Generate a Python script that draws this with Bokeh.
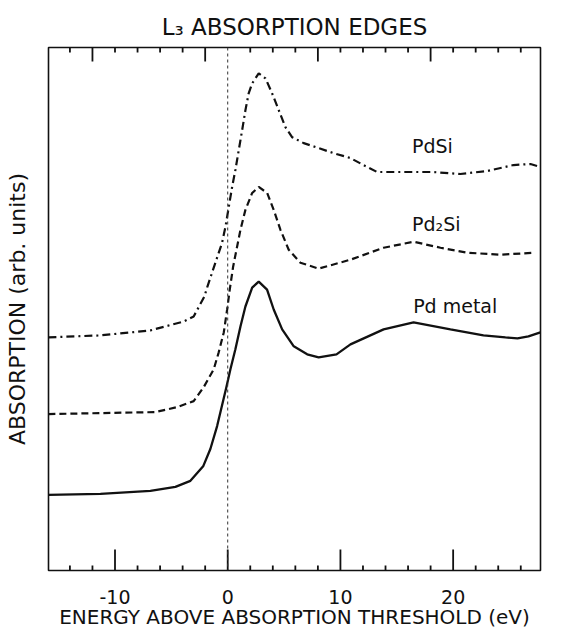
from bokeh.plotting import figure
from bokeh.models import LinearAxis, FixedTicker, Span, Range1d
from bokeh.core.properties import value
from bokeh.embed import file_html
from bokeh.resources import INLINE

# ---------------- data ----------------
# energy above threshold (eV) and absorption (arb. units)
pd_metal_e = [-15.91, -11.29, -6.86, -4.64, -3.31, -2.16, -1.54, -0.94, -0.12, 0.24,
              0.68, 1.13, 1.57, 2.17, 2.75, 3.49, 4.08, 4.83, 5.86, 7.05,
              8.07, 9.65, 10.89, 13.83, 16.49, 19.76, 22.69, 24.64, 25.71, 26.68, 27.74]
pd_metal_a = [0.76, 0.77, 0.80, 0.84, 0.90, 1.05, 1.22, 1.45, 1.84, 2.02,
              2.22, 2.45, 2.65, 2.84, 2.90, 2.82, 2.62, 2.42, 2.25, 2.17,
              2.14, 2.17, 2.27, 2.42, 2.49, 2.42, 2.36, 2.34, 2.33, 2.35, 2.39]

pd2si_e = [-15.91, -11.29, -6.42, -4.49, -3.02, -2.13, -1.24, -0.80, -0.35, -0.05,
           0.18, 0.48, 0.83, 1.13, 1.57, 2.17, 2.75, 3.50, 4.08, 4.68,
           5.41, 6.45, 8.07, 10.89, 13.83, 16.49, 18.88, 21.24, 24.23, 27.16]
pd2si_a = [1.57, 1.58, 1.59, 1.64, 1.70, 1.84, 2.02, 2.19, 2.39, 2.62,
           2.82, 3.05, 3.25, 3.42, 3.62, 3.79, 3.85, 3.79, 3.62, 3.42,
           3.22, 3.09, 3.03, 3.12, 3.24, 3.30, 3.24, 3.19, 3.17, 3.19]

pdsi_e = [-15.91, -11.29, -6.86, -3.90, -3.02, -2.07, -1.80, -1.24, -0.50, -0.20,
          0.11, 0.39, 0.68, 0.98, 1.28, 1.57, 1.86, 2.17, 2.75, 3.35,
          3.94, 4.53, 5.12, 5.71, 6.74, 8.07, 9.38, 10.89, 12.04, 13.26,
          15.32, 18.25, 20.64, 23.02, 25.35, 26.86, 27.74]
pdsi_a = [2.34, 2.36, 2.41, 2.50, 2.55, 2.75, 2.85, 3.04, 3.29, 3.45,
          3.66, 3.85, 4.02, 4.22, 4.42, 4.62, 4.79, 4.89, 4.99, 4.94,
          4.79, 4.62, 4.45, 4.35, 4.29, 4.24, 4.19, 4.14, 4.07, 4.00,
          4.00, 4.00, 3.98, 4.01, 4.07, 4.08, 4.05]

series_names = ["PdSi", "Pd\u2082Si", "Pd metal"]

x_major_ticks = [-10, 0, 10, 20]
x_tick_labels = ["-10", "0", "10", "20"]
x_minor_ticks = [-14, -12, -8, -6, -4, -2, 2, 4, 6, 8, 12, 14, 16, 18, 22, 24, 26]
top_major_ticks = [-12, -2, 8, 18]
top_minor_ticks = [-14, -10, -8, -6, -4, 2, 4, 6, 10, 12, 14, 16, 20, 22, 24, 26]

title_text = "L\u2083 ABSORPTION EDGES"
x_label = "ENERGY ABOVE ABSORPTION THRESHOLD (eV)"
y_label = "ABSORPTION (arb. units)"

# ---------------- figure ----------------
FONT = "DejaVu Sans"
INK = "#111111"
Y0, Y1 = 0.0, 5.25

p = figure(width=574, height=631,
           x_range=Range1d(-15.9, 27.75), y_range=Range1d(Y0, Y1),
           output_backend="svg", toolbar_location=None,
           x_axis_location=None, y_axis_location=None,
           min_border_left=48, min_border_right=34,
           min_border_top=47, min_border_bottom=59)
p.xgrid.visible = False
p.ygrid.visible = False
p.outline_line_color = INK
p.outline_line_width = 1.6

p.title.text = title_text
p.title.align = "center"
p.title.text_font = FONT
p.title.text_font_size = "23px"
p.title.text_font_style = "normal"
p.title.text_color = INK
p.title.standoff = 16

# bottom axis: labels and axis title (tick marks drawn inward below)
xb = LinearAxis(ticker=FixedTicker(ticks=x_major_ticks, minor_ticks=x_minor_ticks),
                axis_label=x_label,
                major_label_overrides={t: l for t, l in zip(x_major_ticks, x_tick_labels)})
xb.axis_line_color = None
xb.major_tick_line_color = None
xb.minor_tick_line_color = None
xb.major_tick_in = 0
xb.major_tick_out = 0
xb.minor_tick_in = 0
xb.minor_tick_out = 0
xb.major_label_text_font = FONT
xb.major_label_text_font_size = "19px"
xb.major_label_text_color = INK
xb.major_label_standoff = 19
xb.axis_label_text_font = FONT
xb.axis_label_text_font_size = "20px"
xb.axis_label_text_font_style = "normal"
xb.axis_label_text_color = INK
xb.axis_label_standoff = -2
p.add_layout(xb, "below")

# left axis: title only
yl = LinearAxis(ticker=FixedTicker(ticks=[]), axis_label=y_label)
yl.axis_line_color = None
yl.major_tick_line_color = None
yl.minor_tick_line_color = None
yl.major_label_text_font_size = "0px"
yl.axis_label_text_font = FONT
yl.axis_label_text_font_size = "22px"
yl.axis_label_text_font_style = "normal"
yl.axis_label_text_color = INK
yl.axis_label_standoff = 19
p.add_layout(yl, "left")

# inward tick marks along the bottom and top edges (from the tick arrays)
bot_major_len, bot_minor_len = 0.21, 0.05
top_major_len, top_minor_len = 0.14, 0.05
p.segment(x0=x_major_ticks, y0=[Y0] * len(x_major_ticks),
          x1=x_major_ticks, y1=[Y0 + bot_major_len] * len(x_major_ticks),
          line_color=INK, line_width=1.8)
p.segment(x0=x_minor_ticks, y0=[Y0] * len(x_minor_ticks),
          x1=x_minor_ticks, y1=[Y0 + bot_minor_len] * len(x_minor_ticks),
          line_color=INK, line_width=1.8)
p.segment(x0=top_major_ticks, y0=[Y1] * len(top_major_ticks),
          x1=top_major_ticks, y1=[Y1 - top_major_len] * len(top_major_ticks),
          line_color=INK, line_width=1.8)
p.segment(x0=top_minor_ticks, y0=[Y1] * len(top_minor_ticks),
          x1=top_minor_ticks, y1=[Y1 - top_minor_len] * len(top_minor_ticks),
          line_color=INK, line_width=1.8)

# threshold marker
p.add_layout(Span(location=0, dimension="height", line_color="#333333",
                  line_width=1, line_dash="3 3"))

# curves
p.line(pd_metal_e, pd_metal_a, line_color=INK, line_width=2.3)
p.line(pd2si_e, pd2si_a, line_color=INK, line_width=2.2, line_dash="7 4")
p.line(pdsi_e, pdsi_a, line_color=INK, line_width=2.2, line_dash="8 4 2 4")

# curve labels
p.text(x=[16.35, 16.35, 16.45], y=[4.26, 3.48, 2.66], text=series_names,
       text_font=value(FONT), text_font_size="19px", text_color=INK,
       text_baseline="alphabetic", text_align="left")

open("out.html", "w").write(file_html(p, INLINE))
